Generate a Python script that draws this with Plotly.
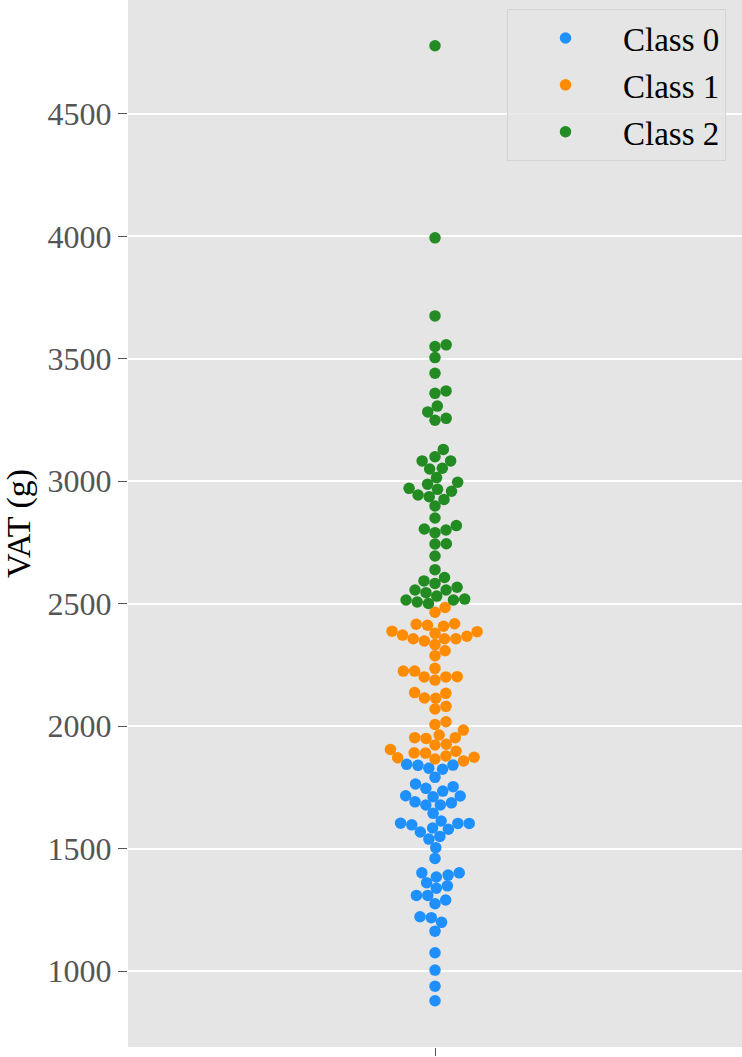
import numpy as np
import plotly.graph_objects as go

# VAT values (g), per class
class0 = [879, 938, 1004, 1075, 1163, 1199, 1218, 1222, 1275, 1290, 1309, 1309,
          1338, 1348, 1361, 1384, 1392, 1401, 1401, 1460, 1504, 1539, 1550, 1568,
          1579, 1584, 1597, 1603, 1603, 1604, 1613, 1644, 1678, 1678, 1687, 1691,
          1712, 1715, 1716, 1735, 1746, 1753, 1764, 1791, 1824, 1828, 1840, 1841, 1844]
class1 = [1858, 1866, 1871, 1873, 1878, 1890, 1891, 1898, 1905, 1923, 1926, 1950,
          1953, 1953, 1964, 1984, 2007, 2018, 2070, 2081, 2114, 2115, 2134, 2137,
          2188, 2201, 2201, 2202, 2225, 2225, 2236, 2288, 2308, 2333, 2348, 2357,
          2357, 2357, 2367, 2372, 2379, 2386, 2388, 2408, 2412, 2416, 2418, 2465, 2485]
class2 = [2501, 2507, 2515, 2515, 2519, 2531, 2545, 2556, 2556, 2567, 2583, 2593,
          2607, 2639, 2695, 2744, 2745, 2790, 2801, 2805, 2819, 2850, 2899, 2926,
          2937, 2944, 2959, 2967, 2971, 2988, 2996, 3015, 3050, 3053, 3083, 3083,
          3100, 3130, 3249, 3257, 3283, 3307, 3359, 3369, 3441, 3505, 3550, 3557,
          3675, 3994, 4778]
class_names = ["Class 0", "Class 1", "Class 2"]
colors = ["#1e90ff", "#ff8c00", "#228b22"]
y_ticks = [1000, 1500, 2000, 2500, 3000, 3500, 4000, 4500]

W, H = 742, 1057
ML, MB = 128, 10
plot_w, plot_h = W - ML, H - MB
y_min, y_max = 690, 4965
px_per_unit = plot_h / (y_max - y_min)
marker_d = 11.5
r = 5.4


def beeswarm(values):
    # seaborn-style swarm: place each point (sorted) closest to the midline
    order = np.argsort(values, kind="stable")
    ys = np.asarray(values, float)[order] * px_per_unit
    placed = []
    for y in ys:
        neighbors = [(xj, yj) for xj, yj in placed if abs(y - yj) < 2 * r]
        cands = [0.0]
        for xj, yj in neighbors:
            dx = np.sqrt(max((2 * r) ** 2 - (y - yj) ** 2, 0)) * 1.05
            cands += [xj + dx, xj - dx]
        cands.sort(key=abs)
        for c in cands:
            if all((c - xj) ** 2 + (y - yj) ** 2 >= (2 * r) ** 2 - 1e-6 for xj, yj in neighbors):
                placed.append((c, y))
                break
    xs = np.empty(len(values))
    xs[order] = [p[0] for p in placed]
    return xs


all_vals = class0 + class1 + class2
labels = [0] * len(class0) + [1] * len(class1) + [2] * len(class2)
xs = beeswarm(all_vals)
labels = np.array(labels)
all_vals = np.array(all_vals)

fig = go.Figure()
for k, name in enumerate(class_names):
    m = labels == k
    fig.add_trace(go.Scatter(
        x=xs[m], y=all_vals[m], mode="markers", name=name, legendgroup=name,
        marker=dict(size=marker_d, color=colors[k], line=dict(width=0)),
    ))

fig.update_layout(
    width=W, height=H,
    margin=dict(l=ML, r=0, t=0, b=MB, autoexpand=False),
    paper_bgcolor="white", plot_bgcolor="#e5e5e5",
    font=dict(family="Liberation Serif, Times New Roman, serif"),
    showlegend=True,
    legend=dict(
        x=(726 - ML) / plot_w, y=1 - 9 / plot_h, xanchor="right", yanchor="top",
        bgcolor="rgba(229,229,229,0.8)", bordercolor="#d4d4d4", borderwidth=1,
        font=dict(size=33, color="black"), tracegroupgap=1, itemwidth=105,
    ),
)
fig.update_xaxes(
    range=[-plot_w / 2, plot_w / 2], showgrid=False, zeroline=False,
    tickvals=[0], ticktext=[""], ticks="outside", ticklen=8, tickcolor="#555555",
    showline=False, automargin=False,
)
fig.update_yaxes(
    range=[y_min, y_max], tickvals=y_ticks,
    showgrid=True, gridcolor="white", gridwidth=2, zeroline=False,
    ticks="outside", ticklen=9, tickcolor="#555555", automargin=False,
    tickfont=dict(size=32, color="#555555"),
    title=dict(text="VAT (g)", font=dict(size=34, color="black"), standoff=8),
)

fig.write_html("out.html", config={"displayModeBar": False},
               post_script="document.body.style.margin='0';")
